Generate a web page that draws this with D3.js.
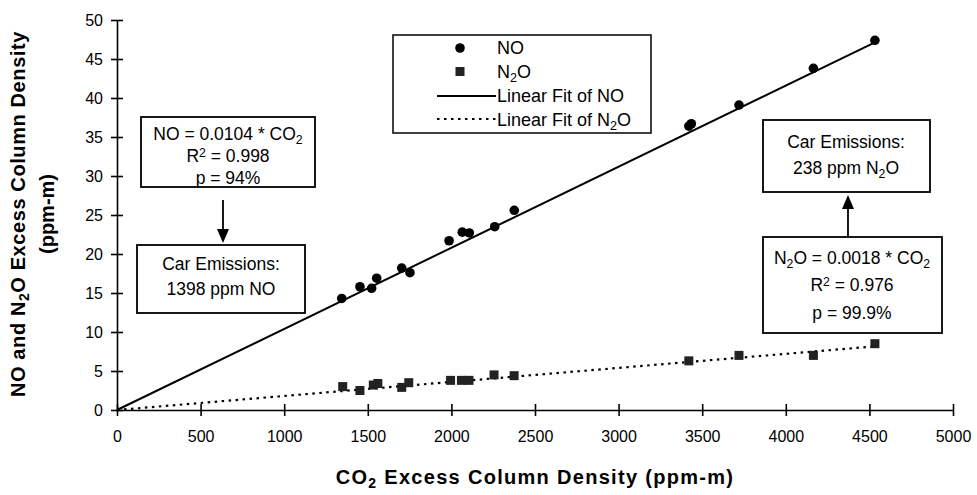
<!DOCTYPE html>
<html>
<head>
<meta charset="utf-8">
<script src="https://cdn.jsdelivr.net/npm/d3@7"></script>
<style>
  body { margin: 0; background: #fff; }
  svg { font-family: "Liberation Sans", Arial, sans-serif; }
  .tick text { font-size: 16px; fill: #000; }
  .tick line, .domain { stroke: #000; stroke-width: 1.6; }
</style>
</head>
<body>
<svg id="chart" width="977" height="495"></svg>
<script>
// CO2 excess column density (ppm-m) vs NO / N2O
var noCO2 = [1344, 1453, 1523, 1553, 1703, 1752, 1986, 2065, 2107, 2259, 2376, 3420, 3435, 3720, 4165, 4533];
var noVal = [14.3, 15.8, 15.6, 16.9, 18.2, 17.6, 21.7, 22.8, 22.7, 23.5, 25.6, 36.4, 36.7, 39.1, 43.8, 47.4];

var n2oCO2 = [1350, 1453, 1533, 1560, 1703, 1745, 1995, 2060, 2105, 2255, 2375, 3420, 3720, 4165, 4533];
var n2oVal = [3.0, 2.5, 3.2, 3.4, 2.9, 3.5, 3.8, 3.8, 3.8, 4.5, 4.4, 6.3, 7.0, 7.0, 8.5];

var noSlope = 0.0104, n2oSlope = 0.0018;
var xTicks = [0, 500, 1000, 1500, 2000, 2500, 3000, 3500, 4000, 4500, 5000];
var yTicks = [0, 5, 10, 15, 20, 25, 30, 35, 40, 45, 50];

var svg = d3.select("#chart");

var x = d3.scaleLinear().domain([0, 5000]).range([117, 953]);
var y = d3.scaleLinear().domain([0, 50]).range([410, 20]);

// axes, ticks cross the axis line
var xAxis = svg.append("g").attr("transform", "translate(0," + y(0) + ")")
  .call(d3.axisBottom(x).tickValues(xTicks).tickFormat(d3.format("d"))
    .tickSize(6).tickSizeOuter(0).tickPadding(15));
xAxis.selectAll(".tick line").attr("y1", -6);

var yAxis = svg.append("g").attr("transform", "translate(" + x(0) + ",0)")
  .call(d3.axisLeft(y).tickValues(yTicks).tickSize(6).tickSizeOuter(0));
yAxis.selectAll(".tick line").attr("x1", 6);
yAxis.selectAll(".tick text").attr("x", -14);

// fit lines
var noMax = d3.max(noCO2), n2oMax = d3.max(n2oCO2);
var line = d3.line().x(function(d) { return x(d[0]); }).y(function(d) { return y(d[1]); });

svg.append("path")
  .datum([[0, 0], [noMax, noSlope * noMax]])
  .attr("d", line).attr("fill", "none").attr("stroke", "#000").attr("stroke-width", 2);

svg.append("path")
  .datum([[0, 0], [n2oMax, n2oSlope * n2oMax]])
  .attr("d", line).attr("fill", "none").attr("stroke", "#000")
  .attr("stroke-width", 2.2).attr("stroke-dasharray", "2.5,4.5");

// markers
svg.selectAll(".no").data(noCO2).enter().append("circle")
  .attr("cx", function(d) { return x(d); })
  .attr("cy", function(d, i) { return y(noVal[i]); })
  .attr("r", 4.8).attr("fill", "#000");

svg.selectAll(".n2o").data(n2oCO2).enter().append("rect")
  .attr("x", function(d) { return x(d) - 4.5; })
  .attr("y", function(d, i) { return y(n2oVal[i]) - 4.5; })
  .attr("width", 9).attr("height", 9).attr("fill", "#222");

// helper for text with subscripts: parts = [[text, "sub"|"sup"|0], ...]
function rich(g, px, py, parts, size, anchor, weight) {
  var t = g.append("text").attr("x", px).attr("y", py)
    .attr("font-size", size).attr("text-anchor", anchor || "middle")
    .attr("font-weight", weight || "normal");
  parts.forEach(function(p) {
    var s = t.append("tspan").text(p[0]);
    if (p[1] === "sub") s.attr("baseline-shift", "-30%").attr("font-size", size * 0.7);
    if (p[1] === "sup") s.attr("baseline-shift", "40%").attr("font-size", size * 0.7);
  });
  return t;
}

// axis titles
rich(svg, 535, 484, [["CO", 0], ["2", "sub"], [" Excess Column Density (ppm-m)", 0]], 20, "middle", "bold")
  .attr("letter-spacing", 1.3);
var yt = svg.append("g").attr("transform", "translate(25,214) rotate(-90)");
rich(yt, 0, 0, [["NO and N", 0], ["2", "sub"], ["O Excess Column Density", 0]], 20, "middle", "bold")
  .attr("letter-spacing", 0.6);
rich(yt, 0, 29, [["(ppm-m)", 0]], 20, "middle", "bold");

// legend
var lg = svg.append("g");
lg.append("rect").attr("x", 393).attr("y", 35).attr("width", 258).attr("height", 98)
  .attr("fill", "#fff").attr("stroke", "#000").attr("stroke-width", 1.5);
lg.append("circle").attr("cx", 460).attr("cy", 48).attr("r", 4.8).attr("fill", "#000");
lg.append("rect").attr("x", 455.5).attr("y", 67).attr("width", 9).attr("height", 9).attr("fill", "#222");
lg.append("line").attr("x1", 437).attr("x2", 496).attr("y1", 96).attr("y2", 96)
  .attr("stroke", "#000").attr("stroke-width", 2);
lg.append("line").attr("x1", 437).attr("x2", 496).attr("y1", 119).attr("y2", 119)
  .attr("stroke", "#000").attr("stroke-width", 2.2).attr("stroke-dasharray", "2.5,4.5");
rich(lg, 497, 54, [["NO", 0]], 18, "start");
rich(lg, 497, 78, [["N", 0], ["2", "sub"], ["O", 0]], 18, "start");
rich(lg, 497, 102, [["Linear Fit of NO", 0]], 18, "start");
rich(lg, 497, 126, [["Linear Fit of N", 0], ["2", "sub"], ["O", 0]], 18, "start");

// annotation boxes
function box(bx, by, bw, bh) {
  svg.append("rect").attr("x", bx).attr("y", by).attr("width", bw).attr("height", bh)
    .attr("fill", "#fff").attr("stroke", "#000").attr("stroke-width", 1.8);
}
function arrow(ax, y1, y2) {
  var dir = y2 > y1 ? 1 : -1;
  svg.append("line").attr("x1", ax).attr("x2", ax).attr("y1", y1).attr("y2", y2 - dir * 12)
    .attr("stroke", "#000").attr("stroke-width", 1.8);
  svg.append("path")
    .attr("d", "M" + (ax - 6) + "," + (y2 - dir * 14) + "L" + (ax + 6) + "," + (y2 - dir * 14) + "L" + ax + "," + y2 + "Z")
    .attr("fill", "#000");
}

var fs = 17.5;
box(141, 117, 174, 70);
rich(svg, 228, 140, [["NO = 0.0104 * CO", 0], ["2", "sub"]], fs);
rich(svg, 228, 162, [["R", 0], ["2", "sup"], [" = 0.998", 0]], fs);
rich(svg, 228, 184, [["p = 94%", 0]], fs);
arrow(223, 200, 243);
box(137, 245, 168, 68);
rich(svg, 221, 270, [["Car Emissions:", 0]], fs);
rich(svg, 221, 295, [["1398 ppm NO", 0]], fs);

box(763, 120, 167, 72);
rich(svg, 846, 148, [["Car Emissions:", 0]], fs);
rich(svg, 846, 174, [["238 ppm N", 0], ["2", "sub"], ["O", 0]], fs);
arrow(848, 237, 195);
box(763, 237, 179, 96);
rich(svg, 852, 264, [["N", 0], ["2", "sub"], ["O = 0.0018 * CO", 0], ["2", "sub"]], fs);
rich(svg, 852, 291, [["R", 0], ["2", "sup"], [" = 0.976", 0]], fs);
rich(svg, 852, 319, [["p = 99.9%", 0]], fs);
</script>
</body>
</html>
